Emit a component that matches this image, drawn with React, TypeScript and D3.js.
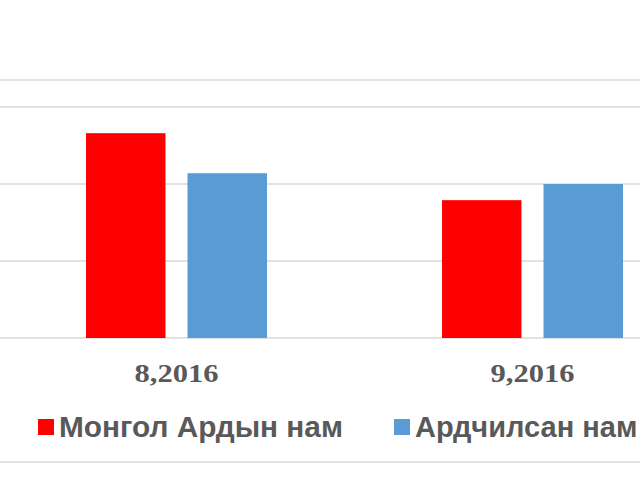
import React, { useEffect, useRef } from 'react';
import { select, scaleBand, scaleLinear } from 'd3';

const categories = ['8,2016', '9,2016'];
const seriesNames = ['Монгол Ардын нам', 'Ардчилсан нам'];
const mppValues = [26.6, 17.9];
const dpValues = [21.4, 20.0];
const yTicks = [0, 10, 20, 30];

const colors = ['#FF0000', '#5B9BD5'];

const App = () => {
  const ref = useRef<SVGSVGElement>(null);

  useEffect(() => {
    const svg = select(ref.current);
    svg.selectAll('*').remove();

    const width = 640;
    const height = 480;

    // chart border (cropped picture, only top and bottom edges visible)
    svg.append('rect').attr('width', width).attr('height', height).attr('fill', '#fff');
    svg
      .selectAll('.border')
      .data([80, 462])
      .enter()
      .append('line')
      .attr('x1', 0)
      .attr('x2', width)
      .attr('y1', (d) => d)
      .attr('y2', (d) => d)
      .attr('stroke', '#d9d9d9')
      .attr('stroke-width', 1.5);

    const x0 = scaleBand<string>().domain(categories).range([-1.5, 710.5]).padding(0);
    const x1 = scaleBand<string>()
      .domain(seriesNames)
      .range([0, x0.bandwidth()])
      .paddingInner(0.217)
      .paddingOuter(0.862);
    const y = scaleLinear().domain([0, 30]).range([338, 107]);

    svg
      .append('g')
      .selectAll('line')
      .data(yTicks)
      .enter()
      .append('line')
      .attr('x1', 0)
      .attr('x2', width)
      .attr('y1', (d) => y(d))
      .attr('y2', (d) => y(d))
      .attr('stroke', '#d9d9d9')
      .attr('stroke-width', 1.5);

    const table = categories.map((c, i) => ({ cat: c, vals: [mppValues[i], dpValues[i]] }));

    svg
      .append('g')
      .selectAll('g')
      .data(table)
      .enter()
      .append('g')
      .attr('transform', (d) => `translate(${x0(d.cat)},0)`)
      .selectAll('rect')
      .data((d) => d.vals.map((v, j) => ({ key: seriesNames[j], v, j })))
      .enter()
      .append('rect')
      .attr('x', (d) => x1(d.key) as number)
      .attr('y', (d) => y(d.v))
      .attr('width', x1.bandwidth())
      .attr('height', (d) => y(0) - y(d.v))
      .attr('fill', (d) => colors[d.j]);

    svg
      .append('g')
      .selectAll('text')
      .data(categories)
      .enter()
      .append('text')
      .attr('x', (d) => (x0(d) as number) + x0.bandwidth() / 2)
      .attr('y', 382)
      .attr('text-anchor', 'middle')
      .attr('font-family', '"Liberation Serif", "Times New Roman", serif')
      .attr('font-weight', 'bold')
      .attr('font-size', 25)
      .attr('textLength', 84)
      .attr('lengthAdjust', 'spacingAndGlyphs')
      .attr('fill', '#595959')
      .text((d) => d);

    const legendX = [38, 394];
    const legend = svg
      .append('g')
      .selectAll('g')
      .data(seriesNames)
      .enter()
      .append('g')
      .attr('transform', (d, i) => `translate(${legendX[i]},0)`);

    legend
      .append('rect')
      .attr('x', 0)
      .attr('y', 419)
      .attr('width', 16)
      .attr('height', 16)
      .attr('fill', (d, i) => colors[i]);

    legend
      .append('text')
      .attr('x', 21)
      .attr('y', 437)
      .attr('font-family', '"Liberation Sans", Arial, sans-serif')
      .attr('font-weight', 'bold')
      .attr('font-size', 29)
      .attr('fill', '#595959')
      .attr('textLength', (d, i) => (i === 0 ? 284 : null))
      .attr('lengthAdjust', 'spacingAndGlyphs')
      .text((d) => d);
  }, []);

  return (
    <svg
      ref={ref}
      width={640}
      height={480}
      style={{ position: 'absolute', left: 0, top: 0, display: 'block' }}
    />
  );
};

export default App;
